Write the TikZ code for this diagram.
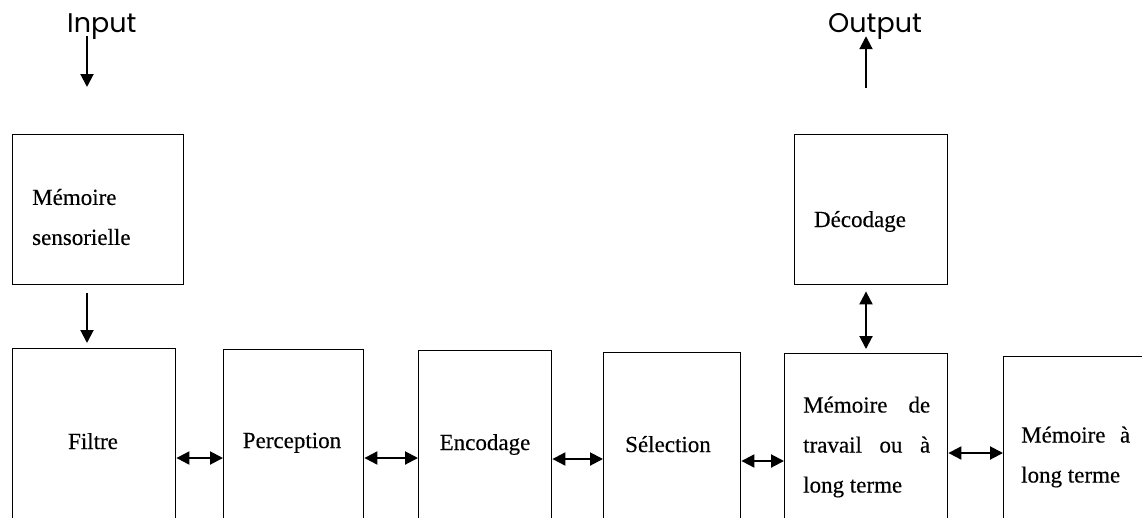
\documentclass[tikz,border=0pt]{standalone}
\usepackage{fontspec}
\setmainfont{Liberation Serif}[FakeBold=0.3]
\newfontfamily\gothicfont{Poppins}
\usetikzlibrary{arrows.meta,calc}
\begin{document}
\begin{tikzpicture}[x=1pt,y=-1pt,
  box/.style={draw, line width=1.4pt, rectangle, anchor=north west, inner sep=0pt},
  lbl/.style={font=\fontsize{23}{40}\selectfont, inner sep=0pt},
  io/.style={font=\gothicfont\fontsize{27}{30}\selectfont, inner sep=0pt, anchor=base west},
  tip/.style={},
  arr/.style={line width=2pt, -{Triangle[length=13pt,width=13pt]}},
  darr/.style={line width=2pt, {Triangle[length=13pt,width=13pt]}-{Triangle[length=13pt,width=13pt]}},
]
\useasboundingbox (0,0) rectangle (1142,517);
\clip (0,0) rectangle (1142,517);

% boxes
\node[box, minimum width=171pt, minimum height=150pt] (ms) at (12,134) {};
\node[box, minimum width=153pt, minimum height=150pt] (dec) at (794,134) {};
\node[box, minimum width=163pt, minimum height=200pt] (fil) at (12,348) {};
\node[box, minimum width=140pt, minimum height=200pt] (per) at (223,349) {};
\node[box, minimum width=133pt, minimum height=200pt] (enc) at (418,350) {};
\node[box, minimum width=137pt, minimum height=200pt] (sel) at (603,352) {};
\node[box, minimum width=163pt, minimum height=200pt] (mdt) at (784,353) {};
\node[box, minimum width=160pt, minimum height=200pt] (mlt) at (1003,356) {};

% texts
\node[lbl, anchor=west, align=flush left] (tms) at (32,217) {Mémoire\\sensorielle};
\node[lbl, anchor=base] (tdec) at (860,227) {Décodage};
\node[lbl, anchor=base] (tfil) at (93,449) {Filtre};
\node[lbl, anchor=base] (tper) at (292,448) {Perception};
\node[lbl, anchor=base] (tenc) at (485,450) {Encodage};
\node[lbl, anchor=base] (tsel) at (668,452) {Sélection};
\node[lbl, anchor=west, align=flush left, text width=127pt] (tmdt) at (803,447) {Mémoire\hfill de\\travail\hfill ou\hfill à\\long terme};
\node[lbl, anchor=west, align=flush left, text width=109pt] (tmlt) at (1021,457) {Mémoire\hfill à\\long terme};

\node[io] (in) at (67,32) {Input};
\node[io] (out) at (828,32) {Output};

% connectors
\coordinate (inend) at (87,87);
\coordinate (outstart) at (866,88);
\draw[arr, shorten <=-3pt] (in.south -| inend) -- (inend);
\draw[arr, shorten >=-3pt] (outstart) -- (out.south -| outstart);
\draw[arr, shorten <=8pt, shorten >=5pt] (ms.south -| inend) -- (fil.north -| inend);
\draw[darr, shorten <=6pt, shorten >=4pt] (dec.south -| outstart) -- (mdt.north -| outstart);

\coordinate (r1) at (0,458);
\coordinate (r2) at (0,459);
\coordinate (r3) at (0,461);
\coordinate (r4) at (0,453);
\draw[darr] (fil.east |- r1) -- (per.west |- r1);
\draw[darr] (per.east |- r1) -- (enc.west |- r1);
\draw[darr] (enc.east |- r2) -- (sel.west |- r2);
\draw[darr] (sel.east |- r3) -- (mdt.west |- r3);
\draw[darr] (mdt.east |- r4) -- (mlt.west |- r4);
\end{tikzpicture}
\end{document}
